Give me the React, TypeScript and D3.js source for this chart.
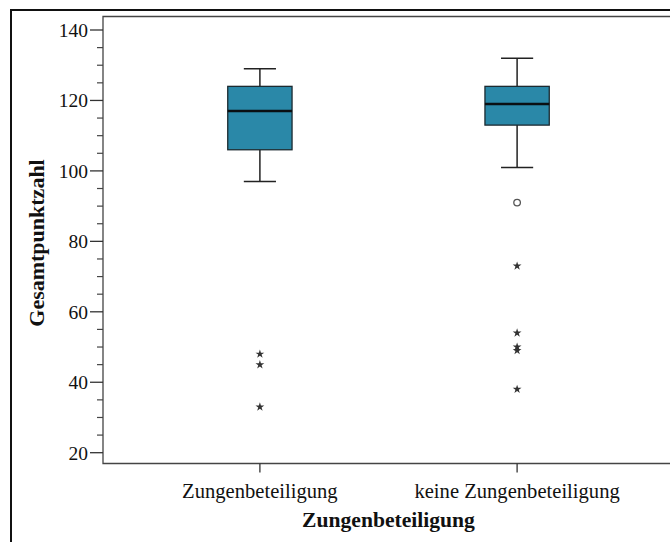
import React from "react";
import * as d3 from "d3";

const categories = ["Zungenbeteiligung", "keine Zungenbeteiligung"];
const whiskerLow = [97, 101];
const q1 = [106, 113];
const median = [117, 119];
const q3 = [124, 124];
const whiskerHigh = [129, 132];
const circleOutliers = [[], [91]];
const starOutliers = [[48, 45, 33], [73, 54, 50, 49, 38]];
const yTicks = [20, 40, 60, 80, 100, 120, 140];
const yMinorTicks = d3.range(20, 145, 5);

const xTitle = "Zungenbeteiligung";
const yTitle = "Gesamtpunktzahl";

export default function App() {
  const W = 670, H = 542;
  const left = 103, right = 674, top = 16.5, bottom = 463.5;
  const y = d3.scaleLinear().domain([20, 140]).range([452.7, 30]);
  const x = d3.scalePoint<string>().domain(categories).range([left, right]).padding(0.61);
  const step = x.step();
  const boxW = step * 0.25;
  const capW = boxW / 2;
  const star = d3.symbol().type(d3.symbolStar).size(24)();
  const serif = "'Liberation Serif', 'Times New Roman', serif";

  return (
    <div style={{ position: "fixed", left: 0, top: 0 }}>
      <svg width={W} height={H} style={{ display: "block", background: "#fff" }}>
        <rect x={11} y={10} width={W + 20} height={H + 20} fill="none" stroke="#111" strokeWidth={2} />
        {/* plot frame */}
        <path d={`M${right + 5},${top}H${left}V${bottom}H${right + 5}`} fill="none" stroke="#444" strokeWidth={1.3} />
        {/* y ticks */}
        {yMinorTicks.filter((t) => t % 20 !== 0).map((t) => (
          <line key={"m" + t} x1={97} x2={left} y1={y(t)} y2={y(t)} stroke="#444" strokeWidth={1.2} />
        ))}
        {yTicks.map((t) => (
          <g key={t}>
            <line x1={90} x2={left} y1={y(t)} y2={y(t)} stroke="#333" strokeWidth={1.3} />
            <text x={88} y={y(t)} dy="0.35em" textAnchor="end" fontFamily={serif} fontSize={19.5} fill="#111">{t}</text>
          </g>
        ))}
        {/* x ticks */}
        {categories.map((c) => (
          <g key={c}>
            <line x1={x(c)} x2={x(c)} y1={bottom} y2={bottom + 9} stroke="#333" strokeWidth={1.3} />
            <text x={x(c)} y={498} textAnchor="middle" fontFamily={serif} fontSize={20.6} fill="#111">{c}</text>
          </g>
        ))}
        <text x={388.5} y={527} textAnchor="middle" fontFamily={serif} fontSize={21.6} fontWeight="bold" fill="#111">{xTitle}</text>
        <text transform={`translate(44,243) rotate(-90)`} textAnchor="middle" fontFamily={serif} fontSize={22} fontWeight="bold" fill="#111">{yTitle}</text>
        {/* boxes */}
        {categories.map((c, i) => {
          const cx = x(c)!;
          return (
            <g key={c}>
              <line x1={cx} x2={cx} y1={y(whiskerHigh[i])} y2={y(q3[i])} stroke="#222" strokeWidth={1.5} />
              <line x1={cx} x2={cx} y1={y(q1[i])} y2={y(whiskerLow[i])} stroke="#222" strokeWidth={1.5} />
              <line x1={cx - capW / 2} x2={cx + capW / 2} y1={y(whiskerHigh[i])} y2={y(whiskerHigh[i])} stroke="#222" strokeWidth={1.5} />
              <line x1={cx - capW / 2} x2={cx + capW / 2} y1={y(whiskerLow[i])} y2={y(whiskerLow[i])} stroke="#222" strokeWidth={1.5} />
              <rect x={cx - boxW / 2} y={y(q3[i])} width={boxW} height={y(q1[i]) - y(q3[i])} fill="#2A88A8" stroke="#1c2a30" strokeWidth={1.3} />
              <line x1={cx - boxW / 2} x2={cx + boxW / 2} y1={y(median[i])} y2={y(median[i])} stroke="#0a0f12" strokeWidth={2.5} />
              {circleOutliers[i].map((v, k) => (
                <circle key={"c" + k} cx={cx} cy={y(v)} r={3.3} fill="none" stroke="#555" strokeWidth={1.3} />
              ))}
              {starOutliers[i].map((v, k) => (
                <path key={"s" + k} d={star!} transform={`translate(${cx},${y(v)})`} fill="#333" />
              ))}
            </g>
          );
        })}
      </svg>
    </div>
  );
}
